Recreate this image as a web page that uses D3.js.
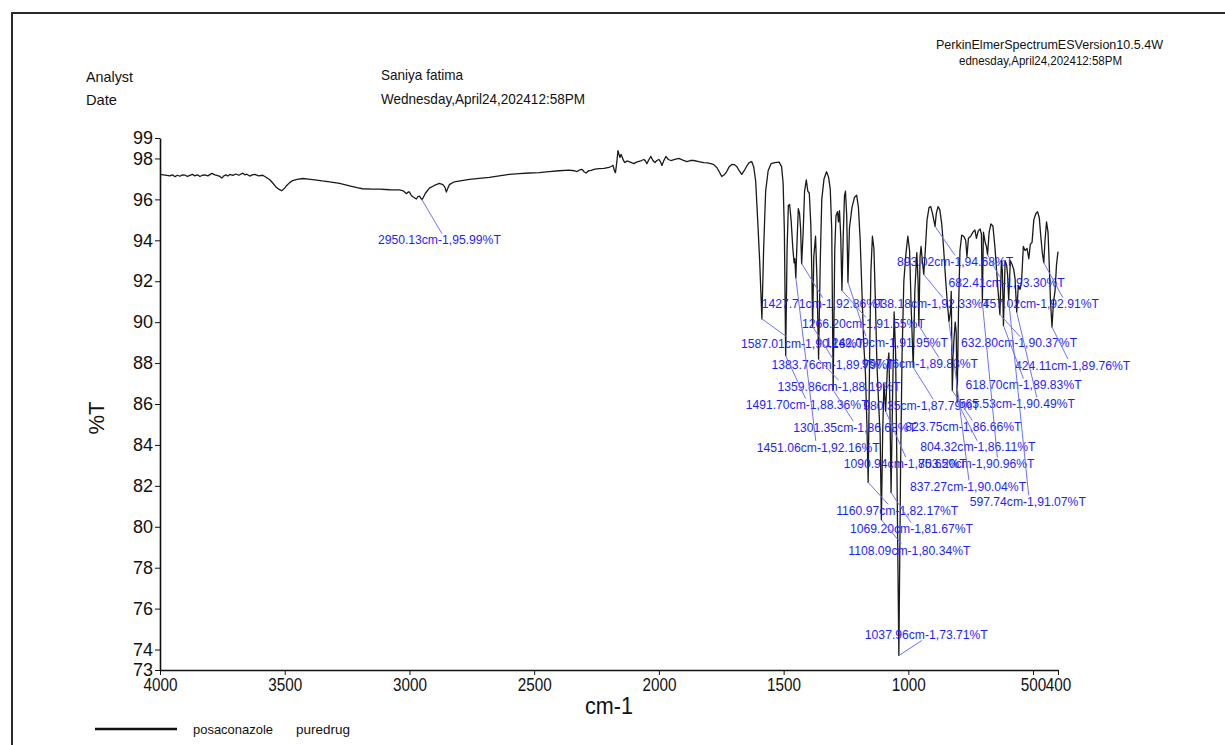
<!DOCTYPE html>
<html>
<head>
<meta charset="utf-8">
<script src="https://cdn.jsdelivr.net/npm/d3@7"></script>
<style>
  body { margin: 0; background: #fff; }
  svg { display: block; }
  text { font-family: "Liberation Sans", Arial, sans-serif; }
</style>
</head>
<body>
<svg id="chart" width="1225" height="745"></svg>
<script>
// ---- spectrum: posaconazole pure drug, FT-IR (%T vs wavenumber) ----
const highRegion = [
  [4000,97.22],[3980,97.19],[3960,97.15],[3950,97.2],[3940,97.11],[3930,97.18],[3920,97.13],[3910,97.2],
  [3900,97.19],[3890,97.12],[3880,97.17],[3870,97.22],[3860,97.15],[3850,97.2],[3840,97.12],[3830,97.18],
  [3820,97.2],[3808,97.15],[3792,97.27],[3780,97.2],[3772,97.17],[3760,97.12],[3752,97.04],[3744,97.15],
  [3736,97.2],[3728,97.14],[3720,97.22],[3708,97.17],[3696,97.24],[3684,97.18],[3668,97.28],[3660,97.2],
  [3652,97.23],[3640,97.14],[3630,97.2],[3620,97.22],[3605,97.15],[3588,97.18],[3580,97.12],[3572,97.06],
  [3560,96.96],[3548,96.8],[3536,96.62],[3524,96.5],[3512,96.42],[3500,96.55],[3492,96.68],[3480,96.82],
  [3468,96.92],[3450,96.98],[3428,97.02],[3405,96.99],[3380,96.95],[3350,96.9],[3320,96.86],[3280,96.78],
  [3240,96.66],[3210,96.57],[3188,96.52],[3150,96.5],[3120,96.5],[3080,96.47],[3040,96.46],[3025,96.42],
  [3012,96.28],[3005,96.36],[3000,96.36],[2994,96.22],[2988,96.14],[2980,96.08],[2972,96.02],[2966,96.14],
  [2960,96.16],[2944,96.1],[2936,96.3],[2920,96.55],[2900,96.68],[2880,96.78],[2866,96.72],[2858,96.6],
  [2852,96.36],[2846,96.55],[2840,96.72],[2820,96.86],[2790,96.92],[2760,96.98],[2720,97.03],[2680,97.08],
  [2640,97.15],[2600,97.22],[2560,97.26],[2520,97.29],[2480,97.31],[2440,97.36],[2400,97.4],[2360,97.43],
  [2340,97.4],[2328,97.36],[2318,97.44],[2308,97.47],[2300,97.35],[2292,97.29],[2282,97.4],[2272,97.42],
  [2256,97.48],[2240,97.5],[2220,97.52],[2200,97.56],[2190,97.62],[2184,97.66],[2178,97.4],[2174,97.3],
  [2168,97.9],[2164,98.38],[2160,98.2],[2156,98.05],[2152,98.2],[2148,98.1],[2142,97.9],[2136,97.8],
  [2128,97.88],[2120,97.85],[2110,97.8],[2100,97.75],[2090,97.82],[2080,97.86],[2070,97.9],[2060,97.95],
  [2054,97.88],[2048,97.74],[2040,97.95],[2032,98.1],[2024,97.9],[2016,97.8],[2008,97.9],[2000,97.95],
  [1994,97.85],[1988,97.66],[1980,97.9],[1972,98.1],[1962,97.95],[1952,97.9],[1936,97.95],[1920,98.0],
  [1904,97.92],[1888,97.85],[1874,97.9],[1860,97.9],[1840,97.85],[1820,97.8],[1806,97.78],[1792,97.75],
  [1780,97.7],[1768,97.56],[1758,97.35],[1748,97.12],[1738,97.2],[1728,97.36],[1718,97.6],[1708,97.71],
  [1698,97.7],[1688,97.61],[1678,97.4],[1668,97.22],[1658,97.4],[1648,97.62],[1638,97.8]
];

const fingerprint = [
  [1628,97.85],[1620,97.6],[1612,96.9],[1604,95.0],[1596,93.0],
  [1580,93.6],[1572,96.4],[1562,97.4],[1550,97.75],[1535,97.8],[1518,97.82],[1508,97.6],[1502,96.8],[1497,94.5],
  [1486,93.6],[1481,95.7],[1476,95.75],[1470,95.0],[1463,93.6],[1458,92.9],[1455,93.1],
  [1446,94.0],[1441,95.55],[1436,95.3],[1432,94.6],
  [1422,94.3],[1416,96.4],[1409,96.95],[1403,96.4],[1397,96.3],[1391,94.8],[1387,92.5],
  [1379,93.2],[1372,94.2],[1366,92.0],
  [1353,93.0],[1347,96.0],[1338,97.0],[1328,97.35],[1320,97.1],[1313,96.5],[1307,94.5],
  [1295,93.5],[1290,95.2],[1284,95.4],[1280,94.9],[1276,95.45],[1271,94.2],
  [1261,94.2],[1256,96.2],[1252,96.4],[1247,95.2],
  [1236,94.6],[1226,95.6],[1216,96.1],[1207,96.2],[1200,95.6],[1193,94.0],[1186,91.5],[1179,89.0],[1172,87.5],[1166,85.0],
  [1155,88.5],[1150,92.5],[1144,94.2],[1138,93.6],[1132,91.0],[1126,88.0],[1119,86.0],[1113,84.5],
  [1103,84.5],[1098,87.0],
  [1084,87.8],[1078,88.5],[1074,86.0],
  [1063,86.5],[1057,90.5],[1051,88.5],[1045,82.0],
  [1031,83.0],[1025,88.5],[1018,92.0],[1010,93.3],[1002,94.2],[995,93.5],[988,90.5],
  [974,91.5],[966,93.4],[961,92.0],
  [953,93.2],[949,93.7],[944,93.0],
  [932,93.5],[925,95.0],[917,95.6],[910,95.65],[903,95.3],[898,95.0],
  [888,95.3],[881,95.65],[874,95.5],[866,94.8],[858,93.5],[850,92.0],[844,91.0],
  [831,90.5],[828,91.5],
  [818,89.0],[812,90.0],[808,89.5],
  [799,90.5],[793,93.5],[786,94.25],[778,94.2],[770,94.0],[765,93.2],[759,94.1],[750,94.2],[741,94.4],
  [733,94.5],[727,94.1],[720,94.45],[712,94.55],[707,94.3],[699,94.4],[692,93.9],[687,93.7],
  [676,94.4],[669,94.8],[661,94.7],[653,93.7],[646,92.5],[640,91.5],
  [627,93.0],[623,92.5],
  [612,93.0],[606,92.8],[602,92.3],
  [591,93.0],[585,92.85],[578,92.6],[572,92.1],
  [559,91.8],[552,91.6],[546,92.0],[539,93.7],[532,93.5],[524,93.6],[517,93.1],[511,93.8],[504,93.9],
  [497,95.0],[489,95.3],[482,95.4],[475,95.1],[469,94.2],[463,93.4],
  [452,94.0],[446,94.9],[440,94.4],[435,92.8],[430,91.0],
  [418,91.0],[412,91.5],[406,92.8],[400,93.45]
];

// picked peaks (wavenumber, %T)
const peakWn = [2950.13, 893.02, 682.41, 1427.71, 938.18, 457.02, 1266.20, 1587.01, 1242.09, 632.80,
                1383.76, 957.76, 424.11, 1359.86, 618.70, 1491.70, 980.35, 565.53, 1301.35, 823.75,
                1451.06, 804.32, 1090.94, 703.20, 837.27, 597.74, 1160.97, 1069.20, 1108.09, 1037.96];
const peakT  = [95.99, 94.68, 93.30, 92.86, 92.33, 92.91, 91.55, 90.16, 91.95, 90.37,
                89.79, 89.83, 89.76, 88.19, 89.83, 88.36, 87.79, 90.49, 86.68, 86.66,
                92.16, 86.11, 85.65, 90.96, 90.04, 91.07, 82.17, 81.67, 80.34, 73.71];

const yTicks = [73, 74, 76, 78, 80, 82, 84, 86, 88, 90, 92, 94, 96, 98, 99];
const xTicks = [4000, 3500, 3000, 2500, 2000, 1500, 1000, 500, 400];

// ---- label placement (pixel offsets from the picked point) ----
// lx: label left edge offset, ly: label centre offset, ex: leader end x offset
const labelPlacement = [
  {lx:-44, ly:40, ex:20}, {lx:-38, ly:35, ex:20}, {lx:-39, ly:28, ex:12}, {lx:-40, ly:40, ex:21},
  {lx:-50, ly:29, ex:19}, {lx:-61, ly:41, ex:19}, {lx:-40, ly:33, ex:24}, {lx:-21, ly:24, ex:25},
  {lx:-23, ly:60, ex:18}, {lx:-39, ly:28, ex:20}, {lx:-41, ly:38, ex:20}, {lx:-57, ly:38, ex:20},
  {lx:-37, ly:38, ex:16}, {lx:-41, ly:27, ex:20}, {lx:-38, ly:59, ex:20}, {lx:-40, ly:49, ex:20},
  {lx:-50, ly:38, ex:20}, {lx:-58, ly:91, ex:20}, {lx:-40, ly:37, ex:20}, {lx:-47, ly:36, ex:20},
  {lx:-39, ly:169, ex:20}, {lx:-37, ly:45, ex:20}, {lx:-42, ly:52, ex:20}, {lx:-64, ly:161, ex:15},
  {lx:-39, ly:165, ex:20}, {lx:-39, ly:201, ex:20}, {lx:-32, ly:28, ex:20}, {lx:-41, ly:36, ex:20},
  {lx:-33, ly:30, ex:20}, {lx:-34, ly:-21, ex:23}
];

const svg = d3.select("#chart");
const x = d3.scaleLinear().domain([4000, 400]).range([160, 1058]);
const y = d3.scaleLinear().domain([73, 99]).range([670, 138]);

// page frame
svg.append("path").attr("d", "M12,745V13H1225").attr("fill", "none")
  .attr("stroke", "#2b2b2b").attr("stroke-width", 2);

// header block
const header = [
  {t: "Analyst", x: 86, y: 77, w: 47, s: 15},
  {t: "Date", x: 86, y: 100, w: 31, s: 15},
  {t: "Saniya fatima", x: 381, y: 75, w: 82, s: 15},
  {t: "Wednesday,April24,202412:58PM", x: 381, y: 99, w: 204, s: 15},
  {t: "PerkinElmerSpectrumESVersion10.5.4W", x: 936, y: 45, w: 227, s: 12},
  {t: "ednesday,April24,202412:58PM", x: 959, y: 61, w: 163, s: 12}
];
svg.selectAll("text.hdr").data(header).join("text").attr("class", "hdr")
  .attr("x", d => d.x).attr("y", d => d.y).attr("dy", "0.35em")
  .attr("font-size", d => d.s).attr("fill", "#111")
  .attr("textLength", d => d.w).attr("lengthAdjust", "spacingAndGlyphs")
  .text(d => d.t);

// axes
const gy = svg.append("g").attr("transform", `translate(${x(4000)},0)`)
  .call(d3.axisLeft(y).tickValues(yTicks).tickSize(5).tickSizeOuter(0).tickPadding(2).tickFormat(d3.format("d")));
const gx = svg.append("g").attr("transform", `translate(0,${y(73)})`)
  .call(d3.axisBottom(x).tickValues(xTicks).tickSize(5).tickSizeOuter(0).tickPadding(3).tickFormat(d3.format("d")));
[gx, gy].forEach(g => {
  g.select(".domain").attr("stroke", "#111").attr("stroke-width", 1.6);
  g.selectAll(".tick line").attr("stroke", "#111");
  g.selectAll(".tick text").attr("font-size", 18).attr("fill", "#111")
    .attr("font-family", '"Liberation Sans", Arial, sans-serif');
});
// wavenumber labels are set in a condensed width
gx.selectAll(".tick text")
  .attr("textLength", d => String(d).length * 8.5).attr("lengthAdjust", "spacingAndGlyphs");

svg.append("text").attr("transform", "translate(104,418) rotate(-90)")
  .attr("text-anchor", "middle").attr("font-size", 22).attr("fill", "#111").text("%T");
svg.append("text").attr("x", 585).attr("y", 706).attr("dy", "0.35em")
  .attr("font-size", 23).attr("fill", "#111")
  .attr("textLength", 48).attr("lengthAdjust", "spacingAndGlyphs").text("cm-1");

// spectrum trace: sampled points plus picked peaks, ordered by wavenumber
const peaks = peakWn.map((w, i) => ({wn: w, t: peakT[i], place: labelPlacement[i]}));
const trace = highRegion.concat(fingerprint, peaks.map(p => [p.wn, p.t]))
  .sort((a, b) => b[0] - a[0]);
svg.append("path").datum(trace)
  .attr("fill", "none").attr("stroke", "#1a1a1a").attr("stroke-width", 1.3)
  .attr("stroke-linejoin", "round")
  .attr("d", d3.line().x(d => x(d[0])).y(d => y(d[1])));

// peak annotations
const fmt = d3.format(".2f");
const ann = svg.append("g");
peaks.forEach(p => {
  const px = x(p.wn), py = y(p.t), pl = p.place;
  const cy = py + pl.ly;
  const ey = pl.ly > 0 ? cy - 6 : cy + 6;
  ann.append("line").attr("x1", px).attr("y1", py).attr("x2", px + pl.ex).attr("y2", ey)
    .attr("stroke", "#7070ff").attr("stroke-width", 1);
  const t = ann.append("text").attr("x", px + pl.lx).attr("y", cy).attr("dy", "0.35em")
    .attr("font-size", 13.5).attr("fill", "#1e1eff")
    .text(`${fmt(p.wn)}cm-1,${fmt(p.t)}%T`);
  t.attr("textLength", t.node().getComputedTextLength() * 0.9).attr("lengthAdjust", "spacingAndGlyphs");
});

// legend
svg.append("line").attr("x1", 95).attr("x2", 177).attr("y1", 729).attr("y2", 729)
  .attr("stroke", "#111").attr("stroke-width", 2.5);
svg.append("text").attr("x", 193).attr("y", 729).attr("dy", "0.35em").attr("font-size", 13)
  .attr("fill", "#111").attr("textLength", 80).attr("lengthAdjust", "spacingAndGlyphs").text("posaconazole");
svg.append("text").attr("x", 296).attr("y", 729).attr("dy", "0.35em").attr("font-size", 13)
  .attr("fill", "#111").attr("textLength", 54).attr("lengthAdjust", "spacingAndGlyphs").text("puredrug");
</script>
</body>
</html>
